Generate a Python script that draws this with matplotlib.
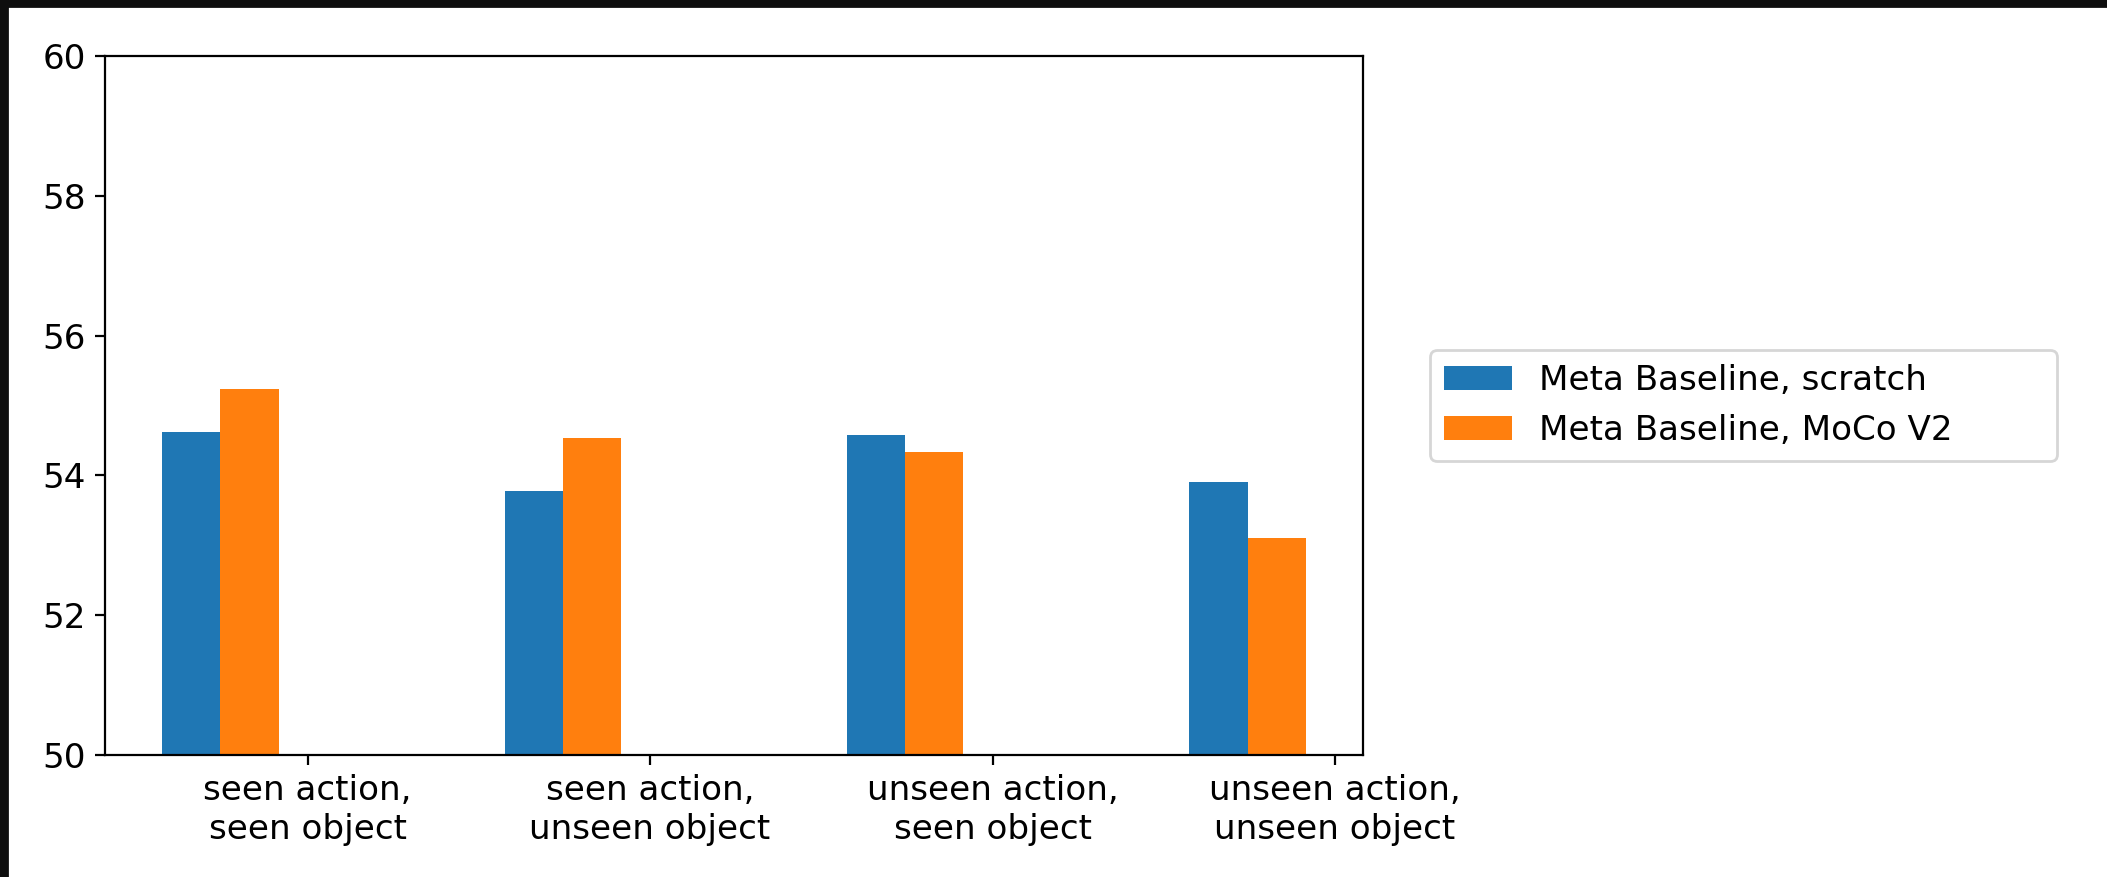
import numpy as np
import matplotlib
matplotlib.use('Agg')
import matplotlib.pyplot as plt
from matplotlib.patches import Rectangle

categories = ['seen action,\nseen object', 'seen action,\nunseen object',
              'unseen action,\nseen object', 'unseen action,\nunseen object']
scratch = [54.62, 53.78, 54.58, 53.91]
moco = [55.23, 54.54, 54.33, 53.11]
labels = ['Meta Baseline, scratch', 'Meta Baseline, MoCo V2']

plt.rcParams['font.size'] = 12.3

fig = plt.figure(figsize=(10.535, 4.385), dpi=200)
ax = fig.add_axes([105 / 2107, 1 - 755 / 877, (1363 - 105) / 2107, (755 - 56) / 877])

x = np.arange(len(categories))
width = 0.17
ax.bar(x - 2 * width, scratch, width, label=labels[0], color='#1f77b4')
ax.bar(x - width, moco, width, label=labels[1], color='#ff7f0e')

ax.set_ylim(50, 60)
ax.set_xticks(x)
ax.set_xticklabels(categories)
# legend stretched to the wide box seen in the original
ax.legend(loc='center left', bbox_to_anchor=(1.0397, 0.5, 0.5254, 0), mode='expand')

# dark screenshot edges on top and left
fig.add_artist(Rectangle((0, 1 - 6 / 877), 1, 6 / 877, transform=fig.transFigure,
                         color='#0e0e0e', zorder=10))
fig.add_artist(Rectangle((0, 0), 7 / 2107, 1, transform=fig.transFigure,
                         color='#0e0e0e', zorder=10))

fig.savefig('out.png', dpi=200)
